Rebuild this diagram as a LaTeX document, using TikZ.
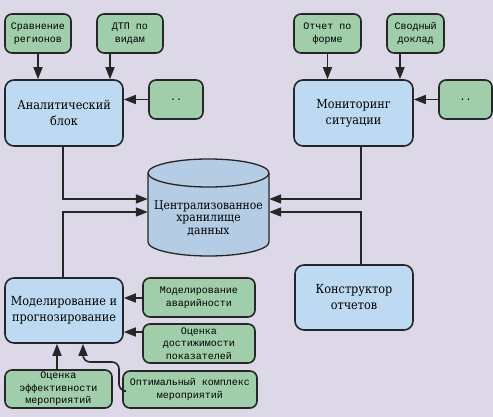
\documentclass[tikz,border=0pt]{standalone}
\usepackage{fontspec}
\setmainfont{DejaVu Serif Condensed}
\newfontfamily\monof{Liberation Mono}
\usetikzlibrary{arrows.meta}
\definecolor{bgc}{RGB}{221,216,232}
\definecolor{grn}{RGB}{160,206,170}
\definecolor{blu}{RGB}{190,218,242}
\definecolor{cylc}{RGB}{180,204,228}
\definecolor{ink}{RGB}{38,38,38}
\tikzset{
  gbox/.style={draw=ink, line width=1.6pt, fill=grn, rounded corners=7pt, inner sep=0pt,
    align=center, font=\monof\fontsize{10}{12.5}\selectfont},
  bbox/.style={draw=ink, line width=1.6pt, fill=blu, rounded corners=9pt, inner sep=0pt,
    align=center, font=\fontsize{12.5}{16}\selectfont},
  conn/.style={draw=ink, line width=1.6pt, -{Triangle[length=12pt,width=9pt]}},
}
\begin{document}
\begin{tikzpicture}[x=1pt,y=-1pt]
\fill[bgc] (0,0) rectangle (493,417);
\useasboundingbox (0,0) rectangle (493,417);
% green boxes
\node[gbox, minimum width=66pt, minimum height=39pt] (g1) at (38,33.5) {Сравнение\\регионов};
\node[gbox, minimum width=66pt, minimum height=39pt] (g2) at (130,33.5) {ДТП по\\видам};
\node[gbox, minimum width=54pt, minimum height=39pt] (g3) at (176,99.5) {..};
\node[gbox, minimum width=67pt, minimum height=39pt] (g4) at (327.5,33.5) {Отчет по\\форме};
\node[gbox, minimum width=57pt, minimum height=39pt] (g5) at (415.5,33.5) {Сводный\\доклад};
\node[gbox, minimum width=53pt, minimum height=39pt] (g6) at (465.5,99.5) {..};
\node[gbox, minimum width=112pt, minimum height=39pt] (g7) at (199,297.5) {Моделирование\\аварийности};
\node[gbox, minimum width=112pt, minimum height=39pt] (g8) at (199,343.5) {Оценка\\достижимости\\показателей};
\node[gbox, minimum width=107pt, minimum height=38pt] (g9) at (58.5,389) {Оценка\\эффективности\\мероприятий};
\node[gbox, minimum width=134pt, minimum height=37pt] (g10) at (190,389.5) {Оптимальный комплекс\\мероприятий};
% blue boxes
\node[bbox, minimum width=118pt, minimum height=66pt] (b1) at (64,113) {Аналитический\\блок};
\node[bbox, minimum width=119pt, minimum height=66pt] (b2) at (353.5,113) {Мониторинг\\ситуации};
\node[bbox, minimum width=118pt, minimum height=65pt] (b3) at (64,310.5) {Моделирование и\\прогнозирование};
\node[bbox, minimum width=118pt, minimum height=65pt] (b4) at (354,297.5) {Конструктор\\отчетов};
% cylinder
\node[minimum width=121pt, minimum height=98pt, inner sep=0pt] (cyl) at (208.5,207) {};
\path[fill=cylc, draw=ink, line width=1.3pt] (148,173) -- (148,242)
  arc[start angle=180, end angle=360, x radius=60.5pt, y radius=14pt] -- (269,173)
  arc[start angle=0, end angle=180, x radius=60.5pt, y radius=14pt] -- cycle;
\draw[ink, line width=1.3pt] (148,173) arc[start angle=180, end angle=360, x radius=60.5pt, y radius=14pt];
\node[align=center, inner sep=0pt, font=\fontsize{12}{12.5}\selectfont] (cyltext) at (208.5,218) {Централизованное\\хранилище\\данных};
% connectors
\draw[conn] (g1.south) -- (g1.south |- b1.north);
\draw[conn] (110,0 |- g2.south) -- (110,0 |- b1.north);
\draw[conn] (g3.west) -- (b1.east |- g3.west);
\draw[conn] (g4.south) -- (g4.south |- b2.north);
\draw[conn] (400,0 |- g5.south) -- (400,0 |- b2.north);
\draw[conn] (g6.west) -- (b2.east |- g6.west);
\draw[conn] (63,0 |- b1.south) |- (cyl.west |- 0,199);
\draw[conn] (63,0 |- b3.north) |- (cyl.west |- 0,212);
\draw[conn] (361,0 |- b2.south) |- (cyl.east |- 0,199);
\draw[conn] (361,0 |- b4.north) |- (cyl.east |- 0,212);
\draw[conn] (g7.west |- 0,298) -- (b3.east |- 0,298);
\draw[conn] (g8.west |- 0,332) -- (b3.east |- 0,332);
\draw[conn] (57,0 |- g9.north) -- (57,0 |- b3.south);
\draw[conn, rounded corners=7pt] (g10.west |- 0,391) -- (119,391) -- (119,362) -- (83,362) -- (83,0 |- b3.south);
\end{tikzpicture}
\end{document}
